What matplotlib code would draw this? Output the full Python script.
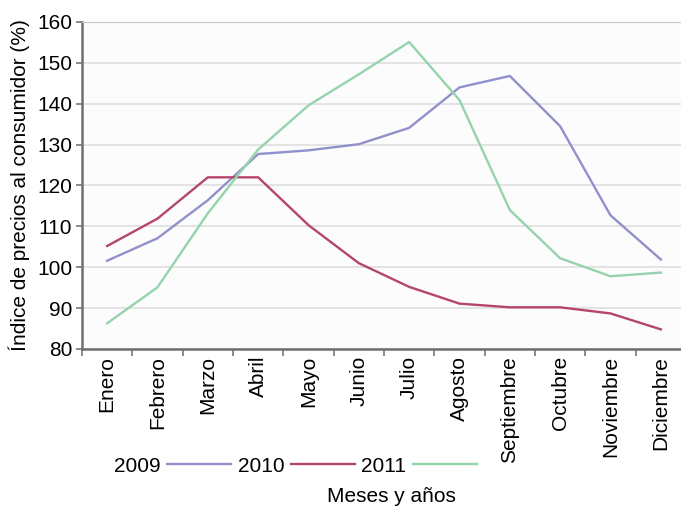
import matplotlib
matplotlib.use("Agg")
from matplotlib import pyplot as plt

plt.rcParams['font.family'] = ['Liberation Sans', 'DejaVu Sans']

# datos
meses = ['Enero', 'Febrero', 'Marzo', 'Abril', 'Mayo', 'Junio', 'Julio',
         'Agosto', 'Septiembre', 'Octubre', 'Noviembre', 'Diciembre']
ipc_2009 = [101.6, 107.1, 116.4, 127.7, 128.6, 130.1, 134.1, 144.0, 146.8, 134.5, 112.7, 101.9]
ipc_2010 = [105.2, 111.9, 122.0, 122.0, 110.3, 101.0, 95.2, 91.1, 90.2, 90.2, 88.7, 84.8]
ipc_2011 = [86.3, 95.1, 113.2, 128.8, 139.6, 147.2, 155.1, 140.9, 114.0, 102.2, 97.8, 98.7]
anios = ['2009', '2010', '2011']
colores = ['#9090cc', '#b5466b', '#95d3ad']

fs = 15
fig = plt.figure(figsize=(6.81, 5.11), dpi=100)
ax = fig.add_axes([82 / 681, (511 - 349) / 511, 604 / 681, 327 / 511])
ax.set_facecolor('#fcfcfc')

x = list(range(len(meses)))
for serie, anio, c in zip([ipc_2009, ipc_2010, ipc_2011], anios, colores):
    ax.plot(x, serie, color=c, lw=1.7, label=anio)

ax.set_xlim(-0.5, 11.5)
ax.set_ylim(80, 160)
ax.set_yticks(range(80, 161, 10))
ax.yaxis.grid(True, color='#e3e3e3', lw=1.4)
ax.set_axisbelow(True)

# ticks en los limites, etiquetas en el centro
ax.set_xticks([i + 0.5 for i in range(-1, 11)])
ax.set_xticklabels([])
ax.set_xticks(x, minor=True)
ax.set_xticklabels(meses, minor=True, rotation=90, fontsize=fs)
ax.tick_params(axis='x', which='major', length=5, width=1.2, color='#777777', direction='out')
ax.tick_params(axis='x', which='minor', length=0, pad=5)
ax.tick_params(axis='y', length=4, width=1.2, color='#777777', labelsize=fs, pad=3)

for s in ['left', 'bottom']:
    ax.spines[s].set_color('#6f6f6f')
    ax.spines[s].set_linewidth(1.8)
ax.spines['top'].set_color('#c8c8c8')
ax.spines['right'].set_visible(False)

ax.set_ylabel('Índice de precios al consumidor (%)', fontsize=fs, labelpad=5)

fig.legend(loc='center left', bbox_to_anchor=(114 / 681, 1 - 466 / 511), ncol=3,
           frameon=False, markerfirst=False, handlelength=3.1, handletextpad=0.3,
           columnspacing=0.3, fontsize=fs, borderpad=0, borderaxespad=0)

fig.text(391 / 681, 1 - 496 / 511, 'Meses y años', ha='center', va='center', fontsize=fs)

plt.savefig('out.png', dpi=100)
